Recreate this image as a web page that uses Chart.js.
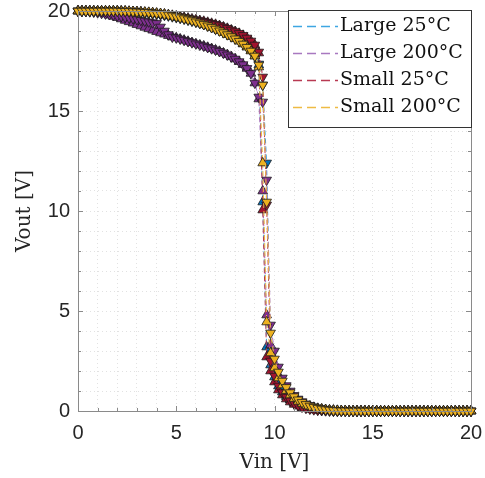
<!DOCTYPE html>
<html lang="en">
<head>
<meta charset="UTF-8">
<title>Vout vs Vin</title>
<script src="https://cdn.jsdelivr.net/npm/chart.js"></script>
<style>
  html, body { margin: 0; padding: 0; background: #fff; }
  #wrap { width: 485px; height: 478px; }
</style>
</head>
<body>
<div id="wrap"><canvas id="grafico"></canvas></div>
<script>
// Vin sweep (V)
const vin = [
  0,0.2,0.4,0.6,0.8,1,1.2,1.4,1.6,1.8,
  2,2.2,2.4,2.6,2.8,3,3.2,3.4,3.6,3.8,
  4,4.2,4.4,4.6,4.8,5,5.2,5.4,5.6,5.8,
  6,6.2,6.4,6.6,6.8,7,7.2,7.4,7.6,7.8,
  8,8.2,8.4,8.6,8.8,9,9.2,9.4,9.6,9.8,
  10,10.2,10.4,10.6,10.8,11,11.2,11.4,11.6,11.8,
  12,12.2,12.4,12.6,12.8,13,13.2,13.4,13.6,13.8,
  14,14.2,14.4,14.6,14.8,15,15.2,15.4,15.6,15.8,
  16,16.2,16.4,16.6,16.8,17,17.2,17.4,17.6,17.8,
  18,18.2,18.4,18.6,18.8,19,19.2,19.4,19.6,19.8,
  20
];

// Vout (V), up sweep (triangle up) and down sweep (triangle down)
const largeColdUp = [
  20,20,20,20,20,20,20,20,20,20,
  20,19.99,19.98,19.97,19.96,19.95,19.93,19.91,19.89,19.87,
  19.85,19.82,19.79,19.76,19.72,19.68,19.64,19.6,19.55,19.5,
  19.45,19.39,19.33,19.26,19.19,19.11,19.03,18.94,18.85,18.75,
  18.64,18.52,18.38,18.22,18.02,17.75,17.3,10.45,3.2,2.3,
  1.7,1.25,0.95,0.72,0.55,0.42,0.32,0.24,0.18,0.13,
  0.09,0.06,0.04,0.03,0.02,0.01,0,0,0,0,
  0,0,0,0,0,0,0,0,0,0,
  0,0,0,0,0,0,0,0,0,0,
  0,0,0,0,0,0,0,0,0,0,
  0
];
const largeColdDown = [
  20,20,20,20,20,20,20,20,20,20,
  20,19.99,19.98,19.97,19.96,19.95,19.93,19.91,19.89,19.87,
  19.85,19.82,19.79,19.76,19.72,19.68,19.64,19.6,19.55,19.5,
  19.45,19.39,19.33,19.26,19.19,19.11,19.03,18.94,18.85,18.75,
  18.64,18.52,18.38,18.22,18.02,17.75,17.35,16.3,12.4,3.0,
  2.1,1.55,1.15,0.88,0.66,0.5,0.38,0.29,0.22,0.16,
  0.12,0.08,0.05,0.03,0.02,0.01,0,0,0,0,
  0,0,0,0,0,0,0,0,0,0,
  0,0,0,0,0,0,0,0,0,0,
  0,0,0,0,0,0,0,0,0,0,
  0
];
const largeHotUp = [
  20,20,20,19.99,19.98,19.95,19.9,19.85,19.79,19.73,
  19.67,19.6,19.53,19.46,19.39,19.32,19.25,19.18,19.11,19.04,
  18.97,18.9,18.84,18.77,18.7,18.66,18.6,18.54,18.48,18.42,
  18.36,18.3,18.25,18.18,18.12,18.05,17.98,17.9,17.81,17.71,
  17.6,17.47,17.32,17.13,16.88,16.4,15.6,11.0,4.8,3.3,
  2.4,1.8,1.38,1.08,0.85,0.67,0.52,0.4,0.31,0.24,
  0.18,0.13,0.1,0.07,0.05,0.04,0.03,0.02,0.01,0,
  0,0,0,0,0,0,0,0,0,0,
  0,0,0,0,0,0,0,0,0,0,
  0,0,0,0,0,0,0,0,0,0,
  0
];
const largeHotDown = [
  20,20,19.99,19.97,19.95,19.92,19.89,19.86,19.83,19.8,
  19.76,19.73,19.69,19.66,19.62,19.58,19.54,19.5,19.46,19.42,
  19.38,19.2,19.0,18.82,18.7,18.66,18.6,18.54,18.48,18.42,
  18.36,18.3,18.25,18.18,18.12,18.05,17.98,17.9,17.81,17.71,
  17.6,17.47,17.32,17.13,16.88,16.4,15.7,15.45,11.55,4.3,
  3.0,2.2,1.65,1.27,1.0,0.78,0.6,0.47,0.36,0.28,
  0.21,0.16,0.12,0.09,0.06,0.04,0.03,0.02,0.01,0,
  0,0,0,0,0,0,0,0,0,0,
  0,0,0,0,0,0,0,0,0,0,
  0,0,0,0,0,0,0,0,0,0,
  0
];
const smallColdUp = [
  20,20,20,20,20,20,20,20,20,20,
  20,19.99,19.99,19.98,19.97,19.96,19.95,19.93,19.92,19.9,
  19.88,19.86,19.84,19.81,19.78,19.75,19.72,19.68,19.64,19.6,
  19.56,19.52,19.48,19.43,19.38,19.33,19.27,19.2,19.13,19.05,
  18.97,18.88,18.78,18.65,18.5,18.3,17.9,10.05,2.7,2.0,
  1.45,1.05,0.8,0.6,0.45,0.33,0.24,0.17,0.12,0.08,
  0.05,0.03,0.02,0.01,0,0,0,0,0,0,
  0,0,0,0,0,0,0,0,0,0,
  0,0,0,0,0,0,0,0,0,0,
  0,0,0,0,0,0,0,0,0,0,
  0
];
const smallColdDown = [
  20,20,20,20,20,20,20,20,20,20,
  20,19.99,19.99,19.98,19.97,19.96,19.95,19.93,19.92,19.9,
  19.88,19.86,19.84,19.81,19.78,19.75,19.72,19.68,19.64,19.6,
  19.56,19.52,19.48,19.43,19.38,19.33,19.27,19.2,19.13,19.05,
  18.97,18.88,18.78,18.65,18.5,18.3,17.95,16.7,10.3,2.5,
  1.75,1.25,0.92,0.7,0.52,0.38,0.28,0.2,0.14,0.1,
  0.07,0.04,0.03,0.02,0.01,0,0,0,0,0,
  0,0,0,0,0,0,0,0,0,0,
  0,0,0,0,0,0,0,0,0,0,
  0,0,0,0,0,0,0,0,0,0,
  0
];
const smallHotUp = [
  20,20,20,20,20,20,20,20,20,20,
  20,19.99,19.99,19.98,19.97,19.96,19.95,19.94,19.93,19.91,
  19.89,19.87,19.84,19.8,19.76,19.72,19.67,19.62,19.57,19.52,
  19.46,19.4,19.33,19.26,19.18,19.1,19.01,18.92,18.82,18.72,
  18.61,18.49,18.35,18.19,18.0,17.75,17.2,12.4,4.45,2.9,
  2.15,1.65,1.3,1.02,0.8,0.62,0.48,0.37,0.28,0.21,
  0.16,0.12,0.09,0.06,0.04,0.03,0.02,0.01,0.01,0,
  0,0,0,0,0,0,0,0,0,0,
  0,0,0,0,0,0,0,0,0,0,
  0,0,0,0,0,0,0,0,0,0,
  0
];
const smallHotDown = [
  20,20,20,20,20,20,20,20,20,20,
  20,19.99,19.99,19.98,19.97,19.96,19.95,19.94,19.93,19.91,
  19.89,19.87,19.84,19.8,19.76,19.72,19.67,19.62,19.57,19.52,
  19.46,19.4,19.33,19.26,19.18,19.1,19.01,18.92,18.82,18.72,
  18.61,18.49,18.35,18.19,18.0,17.75,17.3,16.3,10.45,3.9,
  2.6,1.95,1.5,1.18,0.92,0.72,0.56,0.43,0.33,0.25,
  0.19,0.14,0.1,0.07,0.05,0.03,0.02,0.01,0.01,0,
  0,0,0,0,0,0,0,0,0,0,
  0,0,0,0,0,0,0,0,0,0,
  0,0,0,0,0,0,0,0,0,0,
  0
];

const legendLabels = ['Large 25°C', 'Large 200°C', 'Small 25°C', 'Small 200°C'];
const markerColors = ['#0072BD', '#7E2F8E', '#A2142F', '#EDB120'];
const lineColors = ['#3ea6e2', '#a878c0', '#b83a52', '#eebb44'];

const serieSu = [largeColdUp, largeHotUp, smallColdUp, smallHotUp];
const serieGiu = [largeColdDown, largeHotDown, smallColdDown, smallHotDown];

function punti(vals) {
  return vals.map((v, i) => ({ x: vin[i], y: v }));
}

const datasets = [];
for (let s = 0; s < 4; s++) {
  [serieSu[s], serieGiu[s]].forEach((vals, k) => {
    datasets.push({
      label: legendLabels[s],
      data: punti(vals),
      showLine: true,
      clip: false,
      borderColor: lineColors[s],
      borderWidth: 1,
      borderDash: [5, 3],
      pointStyle: 'triangle',
      rotation: k === 0 ? 0 : 180,
      pointRadius: 5.6,
      pointBackgroundColor: markerColors[s],
      pointBorderColor: '#1a1a1a',
      pointBorderWidth: 0.8,
      order: 10 - (s * 2 + k)
    });
  });
}

// box, inward ticks, axis titles and legend
const cornice = {
  id: 'cornice',
  afterDraw(chart) {
    const { ctx, chartArea: a, scales: { x, y } } = chart;
    ctx.save();
    ctx.strokeStyle = '#8a8a8a';
    ctx.lineWidth = 1;
    for (let v = 0; v <= 20; v++) {
      const len = v % 5 === 0 ? 5 : 3;
      const px = Math.round(x.getPixelForValue(v)) + 0.5;
      const py = Math.round(y.getPixelForValue(v)) + 0.5;
      ctx.beginPath();
      ctx.moveTo(px, a.bottom); ctx.lineTo(px, a.bottom - len);
      ctx.moveTo(px, a.top); ctx.lineTo(px, a.top + len);
      ctx.moveTo(a.left, py); ctx.lineTo(a.left + len, py);
      ctx.moveTo(a.right, py); ctx.lineTo(a.right - len, py);
      ctx.stroke();
    }
    ctx.strokeRect(Math.round(a.left) + 0.5, Math.round(a.top) + 0.5,
      Math.round(a.right - a.left), Math.round(a.bottom - a.top));

    // axis titles
    ctx.fillStyle = '#262626';
    ctx.font = '20px "DejaVu Serif"';
    ctx.textAlign = 'center';
    ctx.textBaseline = 'middle';
    ctx.fillText('Vin [V]', (a.left + a.right) / 2, 463);
    ctx.save();
    ctx.translate(25, (a.top + a.bottom) / 2);
    ctx.rotate(-Math.PI / 2);
    ctx.fillText('Vout [V]', 0, 0);
    ctx.restore();

    // legend
    const bx = 288.5, by = Math.round(a.top) - 0.5, bw = Math.round(a.right) - 288, bh = 117;
    ctx.fillStyle = '#fff';
    ctx.fillRect(bx, by, bw, bh);
    ctx.strokeStyle = '#333';
    ctx.lineWidth = 1;
    ctx.strokeRect(bx, by, bw, bh);
    ctx.font = '19px "DejaVu Serif"';
    ctx.textAlign = 'left';
    for (let s = 0; s < 4; s++) {
      const ry = Math.round(by + 15 + s * 27) + 0.5;
      ctx.strokeStyle = lineColors[s];
      ctx.lineWidth = 1.5;
      ctx.setLineDash([9, 5]);
      ctx.beginPath();
      ctx.moveTo(293, ry); ctx.lineTo(338, ry);
      ctx.stroke();
      ctx.setLineDash([]);
      ctx.fillStyle = '#111';
      ctx.fillText(legendLabels[s], 340, ry);
    }
    ctx.restore();
  }
};

const tickFont = { family: '"Liberation Sans", Arial, sans-serif', size: 20 };

new Chart(document.getElementById('grafico').getContext('2d'), {
  type: 'scatter',
  data: { datasets },
  options: {
    responsive: true,
    maintainAspectRatio: false,
    animation: false,
    layout: { padding: { top: 11, right: 14, left: 0, bottom: 0 } },
    plugins: { legend: { display: false }, tooltip: { enabled: false } },
    scales: {
      x: {
        type: 'linear', min: 0, max: 20,
        afterFit(scale) {
          scale.height = 67;
          scale.paddingLeft = 0;
          scale.paddingRight = 0;
        },
        ticks: {
          stepSize: 1, autoSkip: false, maxRotation: 0, padding: 10,
          color: '#262626', font: tickFont,
          callback: v => (v % 5 === 0 ? v : '')
        },
        grid: { color: '#e2e2e2', drawTicks: false },
        border: { display: false, dash: [1, 3] }
      },
      y: {
        type: 'linear', min: 0, max: 20,
        afterFit(scale) {
          scale.width = 78;
          scale.paddingTop = 0;
          scale.paddingBottom = 0;
        },
        ticks: {
          stepSize: 1, autoSkip: false, padding: 8,
          color: '#262626', font: tickFont,
          callback: v => (v % 5 === 0 ? v : '')
        },
        grid: { color: '#e2e2e2', drawTicks: false },
        border: { display: false, dash: [1, 3] }
      }
    }
  },
  plugins: [cornice]
});
</script>
</body>
</html>
